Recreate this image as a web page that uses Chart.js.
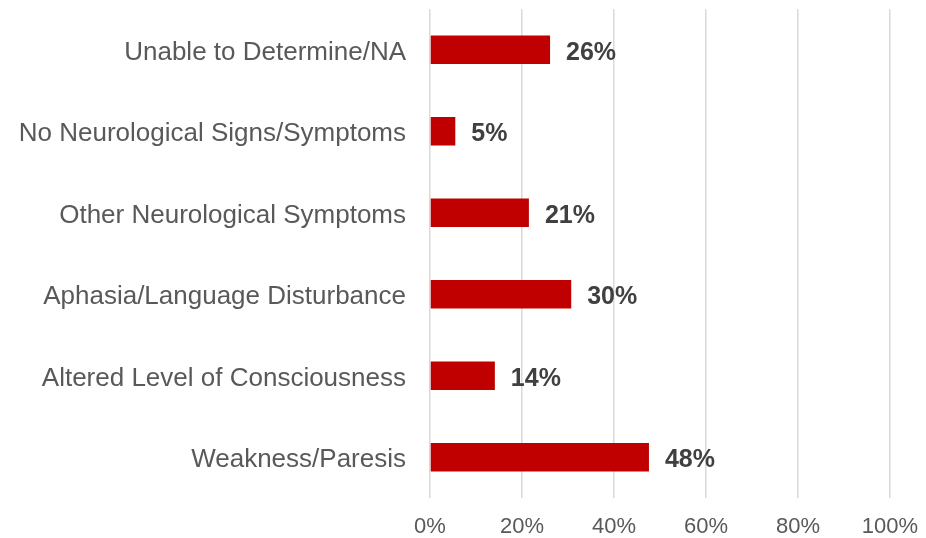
<!DOCTYPE html>
<html>
<head>
<meta charset="utf-8">
<script src="https://cdn.jsdelivr.net/npm/chart.js@4/dist/chart.umd.min.js"></script>
<style>
  html, body { margin: 0; padding: 0; background: #ffffff; }
  #wrap { width: 926px; height: 538px; position: relative; }
</style>
</head>
<body>
<div id="wrap"><canvas id="symptomChart"></canvas></div>
<script>
// categories (top to bottom) and shares in percent
const categories = [
    'Unable to Determine/NA',
    'No Neurological Signs/Symptoms',
    'Other Neurological Symptoms',
    'Aphasia/Language Disturbance',
    'Altered Level of Consciousness',
    'Weakness/Paresis'
];
const shares = [26.1, 5.5, 21.5, 30.7, 14.1, 47.6];
const shareLabels = ['26%', '5%', '21%', '30%', '14%', '48%'];
const tickValues = [0, 20, 40, 60, 80, 100];

const barRed = '#C00000';
const textGrey = '#595959';
const labelGrey = '#404040';
const fontFamily = "'Liberation Sans', Arial, sans-serif";

// value labels drawn right after the end of each bar
const valueLabels = {
    id: 'valueLabels',
    afterDatasetsDraw(chart) {
        const { ctx } = chart;
        const meta = chart.getDatasetMeta(0);
        ctx.save();
        ctx.font = 'bold 25px ' + fontFamily;
        ctx.fillStyle = labelGrey;
        ctx.textAlign = 'left';
        ctx.textBaseline = 'middle';
        meta.data.forEach((bar, i) => {
            ctx.fillText(shareLabels[i], bar.x + 16, bar.y + 3);
        });
        ctx.restore();
    }
};

new Chart(document.getElementById('symptomChart'), {
    type: 'bar',
    data: {
        labels: categories,
        datasets: [{
            data: shares,
            backgroundColor: barRed,
            borderWidth: 0,
            barPercentage: 0.35,
            categoryPercentage: 1.0
        }]
    },
    options: {
        indexAxis: 'y',
        responsive: true,
        maintainAspectRatio: false,
        animation: false,
        layout: { padding: { top: 9, right: 36, bottom: 0, left: 0 } },
        plugins: {
            legend: { display: false },
            tooltip: { enabled: false }
        },
        scales: {
            x: {
                min: 0,
                max: 100,
                afterFit(scale) {
                    scale.height = 40;
                    scale.paddingLeft = 0;
                    scale.paddingRight = 0;
                },
                afterBuildTicks(scale) {
                    scale.ticks = tickValues.map(v => ({ value: v }));
                },
                border: { display: false },
                grid: { color: '#d9d9d9', lineWidth: 1.5, drawTicks: false },
                ticks: {
                    padding: 16,
                    color: textGrey,
                    font: { family: fontFamily, size: 22 },
                    callback: v => v + '%'
                }
            },
            y: {
                afterFit(scale) {
                    scale.width = 430;
                    scale.paddingTop = 0;
                    scale.paddingBottom = 0;
                },
                border: { display: false },
                grid: { display: false, drawTicks: false },
                ticks: {
                    padding: 24,
                    labelOffset: 3,
                    color: textGrey,
                    font: { family: fontFamily, size: 26 }
                }
            }
        }
    },
    plugins: [valueLabels]
});
</script>
</body>
</html>
